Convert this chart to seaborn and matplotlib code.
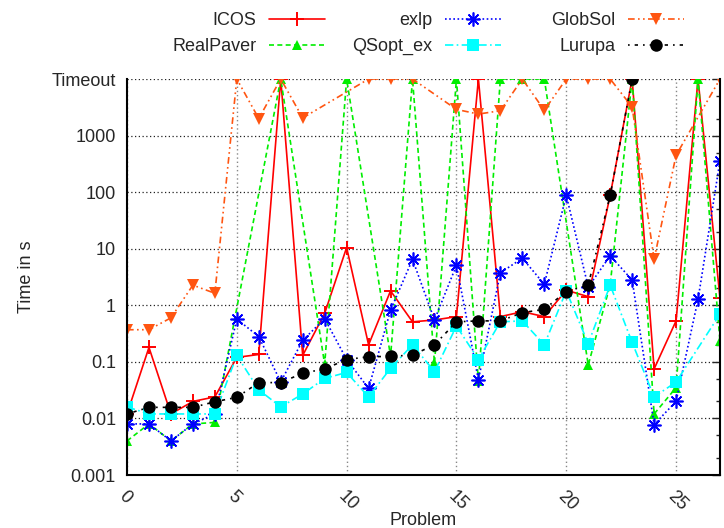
import numpy as np
import pandas as pd
import matplotlib
matplotlib.use("Agg")
import matplotlib.pyplot as plt
import seaborn as sns
from matplotlib.ticker import FixedLocator, FixedFormatter

T = 10000  # "Timeout" level
nan = np.nan

problems = list(range(28))

icos = [0.012, 0.18, 0.012, 0.02, 0.024, 0.12, 0.135, T, 0.13, 0.72, 10.5, 0.2, 1.8, 0.51,
        0.55, 0.63, T, 0.63, 0.77, 0.63, 1.85, 1.42, 88, T, 0.075, 0.53, T, 1.33]
realpaver = [0.004, 0.008, 0.004, 0.008, 0.0085, nan, nan, T, nan, 0.09, T, nan, 0.125, T,
             0.095, T, 0.045, T, T, T, nan, 0.088, 2.3, T, 0.012, 0.035, T, 0.23]
exlp = [0.008, 0.008, 0.004, 0.008, 0.012, 0.57, 0.28, 0.044, 0.24, 0.58, 0.11, 0.034, 0.82, 6.5,
        0.55, 5.1, 0.048, 3.75, 6.8, 2.35, 88, 2.1, 7.5, 2.8, 0.0078, 0.02, 1.27, 360]
qsopt = [0.016, 0.012, 0.012, 0.012, 0.012, 0.13, 0.032, 0.016, 0.027, 0.051, 0.065, 0.024, 0.077, 0.2,
         0.067, 0.43, 0.11, 0.51, 0.53, 0.2, 1.8, 0.21, 2.27, 0.22, 0.024, 0.044, nan, 0.7]
globsol = [0.37, 0.37, 0.6, 2.27, 1.63, T, 2000, T, 2050, nan, nan, T, T, T,
           nan, 2900, 2400, 2750, T, 2800, T, T, T, 3200, 6.5, 450, nan, T]
lurupa = [0.012, 0.0157, 0.0157, 0.0157, 0.0197, 0.0236, 0.043, 0.043, 0.063, 0.075, 0.11, 0.123, 0.125, 0.132,
          0.2, 0.51, 0.53, 0.53, 0.74, 0.85, 1.75, 2.27, 88, T, nan, nan, nan, nan]

ytick_vals = [0.001, 0.01, 0.1, 1, 10, 100, 1000, T]
ytick_labels = ["0.001", "0.01", "0.1", "1", "10", "100", "1000", "Timeout"]
xtick_vals = [0, 5, 10, 15, 20, 25]

# long format, missing points dropped so lines join across gaps (like gnuplot)
series = {"ICOS": icos, "RealPaver": realpaver, "exlp": exlp,
          "QSopt_ex": qsopt, "GlobSol": globsol, "Lurupa": lurupa}
df = pd.concat([pd.DataFrame({"Problem": problems, "Time": v, "Solver": k})
                for k, v in series.items()]).dropna()

sns.set_style("white")
plt.rcParams["font.family"] = ["Liberation Sans", "DejaVu Sans"]
plt.rcParams["font.size"] = 13

fig = plt.figure(figsize=(7.24, 5.28), dpi=100)
ax = fig.add_axes([127 / 724, 1 - 475 / 528, 593 / 724, 396 / 528])

styles = {
    "ICOS":      dict(color="#ff0000", ls="-", marker="+", ms=10, mew=1.4),
    "RealPaver": dict(color="#00ee00", ls=(0, (3, 2)), marker="^", ms=6.5, mew=0),
    "exlp":      dict(color="#0000ff", ls=(0, (1, 1.5)), marker=(8, 2, 0), ms=10, mew=1.2),
    "QSopt_ex":  dict(color="#00ffff", ls=(0, (5, 2, 1, 2)), marker="s", ms=9, mew=0),
    "GlobSol":   dict(color="#ff5511", ls=(0, (4, 2, 1, 2, 1, 2)), marker="v", ms=9, mew=0),
    "Lurupa":    dict(color="#000000", ls=(0, (1, 3, 2, 3)), marker="o", ms=9, mew=0),
}

handles = {}
for name, st in styles.items():
    sub = df[df["Solver"] == name]
    sns.lineplot(data=sub, x="Problem", y="Time", ax=ax, color=st["color"],
                 linestyle=st["ls"], marker=st["marker"], markersize=st["ms"],
                 markeredgewidth=st["mew"], markeredgecolor=st["color"],
                 lw=1.2, estimator=None, sort=True, legend=False)
    handles[name] = ax.lines[-1]

ax.set_yscale("log")
ax.set_xlim(0, 27)
ax.set_ylim(0.001, T)

ax.yaxis.set_major_locator(FixedLocator(ytick_vals))
ax.yaxis.set_major_formatter(FixedFormatter(ytick_labels))
minor = [m * 10.0 ** e for e in range(-3, 4) for m in (2, 5)]
ax.yaxis.set_minor_locator(FixedLocator(minor))
ax.yaxis.set_minor_formatter(FixedFormatter([""] * len(minor)))
ax.set_xticks(xtick_vals)
ax.set_xticklabels([str(v) for v in xtick_vals], rotation=-45, ha="left", va="top",
                   rotation_mode="anchor")

ax.tick_params(axis="y", which="major", direction="in", length=6, width=1, right=True, labelsize=13, pad=8)
ax.tick_params(axis="y", which="minor", direction="in", length=3, width=1, right=True)
ax.tick_params(axis="x", which="major", direction="in", length=6, width=1, labelsize=13, pad=9)

ax.xaxis.grid(True, color="#888888", linestyle=(0, (1, 2)), lw=1)
ax.yaxis.grid(True, which="major", color="#222222", linestyle=(0, (1, 2)), lw=0.9)
ax.set_axisbelow(True)

for s in ["left", "bottom", "right"]:
    ax.spines[s].set_color("black")
    ax.spines[s].set_linewidth(1.5)
ax.spines["top"].set_visible(False)

ax.set_xlabel("Problem", fontsize=13, labelpad=-1)
ax.set_ylabel("Time in s", fontsize=13, labelpad=12)

# gnuplot-like key: three columns, text right-aligned before the sample
cols = [("ICOS", "RealPaver", 325), ("exlp", "QSopt_ex", 501), ("GlobSol", "Lurupa", 684)]
for a, b, xr in cols:
    fig.legend(handles=[handles[a], handles[b]], labels=[a, b], loc="upper right",
               bbox_to_anchor=(xr / 724, 1 - 12 / 528), frameon=False, markerfirst=False,
               handlelength=3.1, handletextpad=0.7, labelspacing=0.5, borderpad=0,
               borderaxespad=0, fontsize=13, numpoints=1)

fig.savefig("out.png", dpi=100)
